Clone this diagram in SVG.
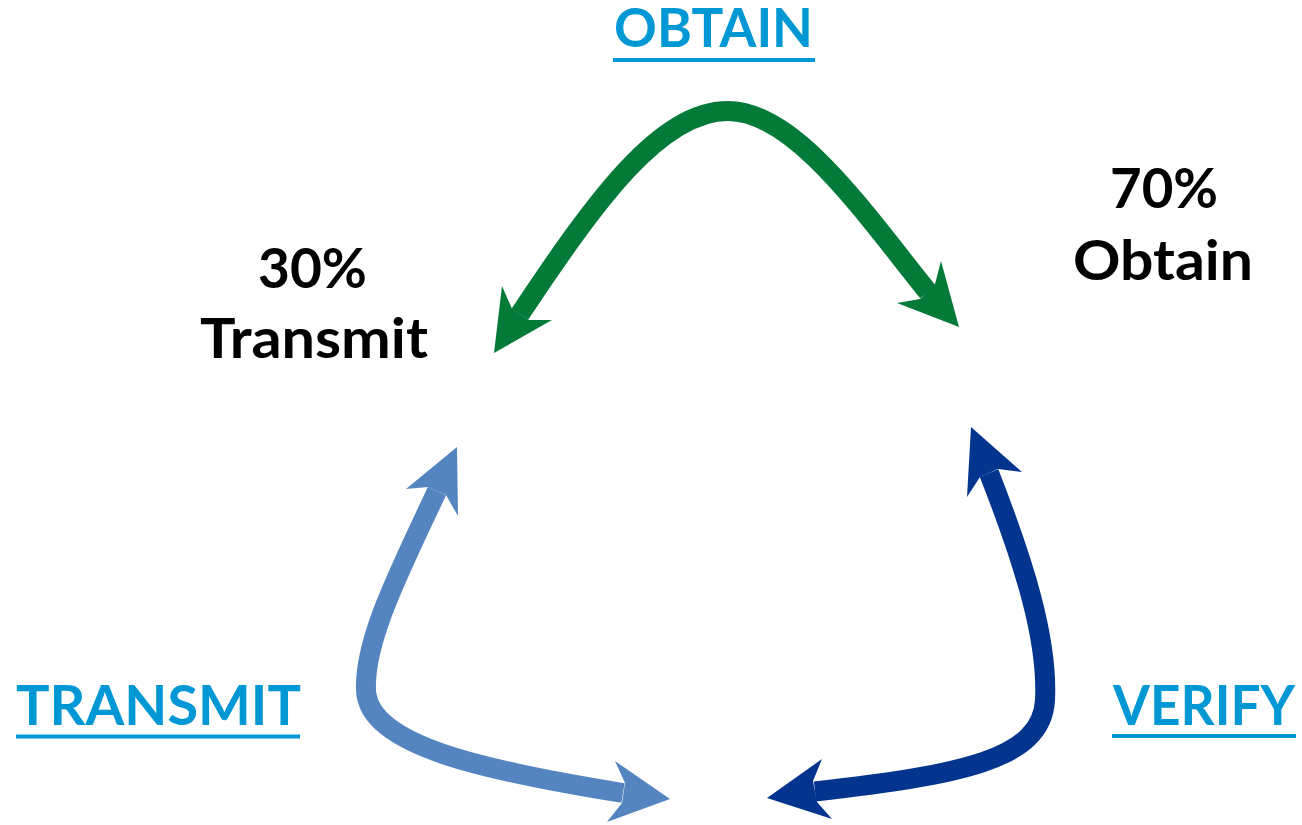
<svg xmlns="http://www.w3.org/2000/svg" width="1302" height="825" viewBox="0 0 1302 825">
  <style>
    .title { font-family: Lato, "Open Sans", sans-serif; font-weight: 700; fill: #0097D5; }
    .rule { stroke: #0097D5; stroke-width: 4; }
    .share { font-family: Lato, "Open Sans", sans-serif; font-weight: 700; fill: #000000; font-size: 56px; }
    .shaft { fill: none; stroke-width: 20; stroke-linecap: butt; }
    .green { stroke: #047A38; }
    .green-head { fill: #047A38; }
    .light { stroke: #5585C0; }
    .light-head { fill: #5585C0; }
    .dark { stroke: #03358F; }
    .dark-head { fill: #03358F; }
  </style>
  <rect width="1302" height="825" fill="#ffffff"/>

  <g id="connectors">
    <!-- obtain arc -->
    <path class="shaft green" d="M520,314 C 596,200 660,111 728,111 C 795,111 865,214 928,292"/>
    <polygon class="green-head" points="494,353 502,286 511.7,308 529,320 552,320"/>
    <polygon class="green-head" points="959,327 941,261 935,284 920,299 897,303"/>
    <!-- transmit arc -->
    <path class="shaft light" d="M437,491 C 400,570 364,640 366,690 C 368,745 480,770 623,793"/>
    <polygon class="light-head" points="457,447 406,489 428,487 446,495 458,516"/>
    <polygon class="light-head" points="670,799 615,761 625,783 622,803 607,822"/>
    <!-- verify arc -->
    <path class="shaft dark" d="M989,473 C 1025,565 1048,640 1045,700 C 1042,760 960,775 815,791.5"/>
    <polygon class="dark-head" points="971,427 1022,472 998,469 980,477 967,497"/>
    <polygon class="dark-head" points="767,798 822,759 813,781 817,802 832,819"/>
  </g>

  <g id="obtain">
    <text class="title" x="614" y="47" font-size="54" textLength="199" lengthAdjust="spacingAndGlyphs">OBTAIN</text>
    <line class="rule" x1="613" y1="60" x2="815" y2="60"/>
  </g>

  <g id="transmit">
    <text class="title" x="16" y="725" font-size="56" textLength="285" lengthAdjust="spacingAndGlyphs">TRANSMIT</text>
    <line class="rule" x1="16" y1="736.5" x2="300" y2="736.5"/>
  </g>

  <g id="verify">
    <text class="title" x="1113" y="725" font-size="56" textLength="182" lengthAdjust="spacingAndGlyphs">VERIFY</text>
    <line class="rule" x1="1112" y1="736" x2="1296" y2="736"/>
  </g>

  <g id="transmit-share">
    <text class="share" x="258" y="288" textLength="109" lengthAdjust="spacingAndGlyphs">30%</text>
    <text class="share" x="200" y="358" textLength="228" lengthAdjust="spacingAndGlyphs">Transmit</text>
  </g>

  <g id="obtain-share">
    <text class="share" x="1110" y="208" textLength="108" lengthAdjust="spacingAndGlyphs">70%</text>
    <text class="share" x="1073" y="280" textLength="180" lengthAdjust="spacingAndGlyphs">Obtain</text>
  </g>
</svg>
